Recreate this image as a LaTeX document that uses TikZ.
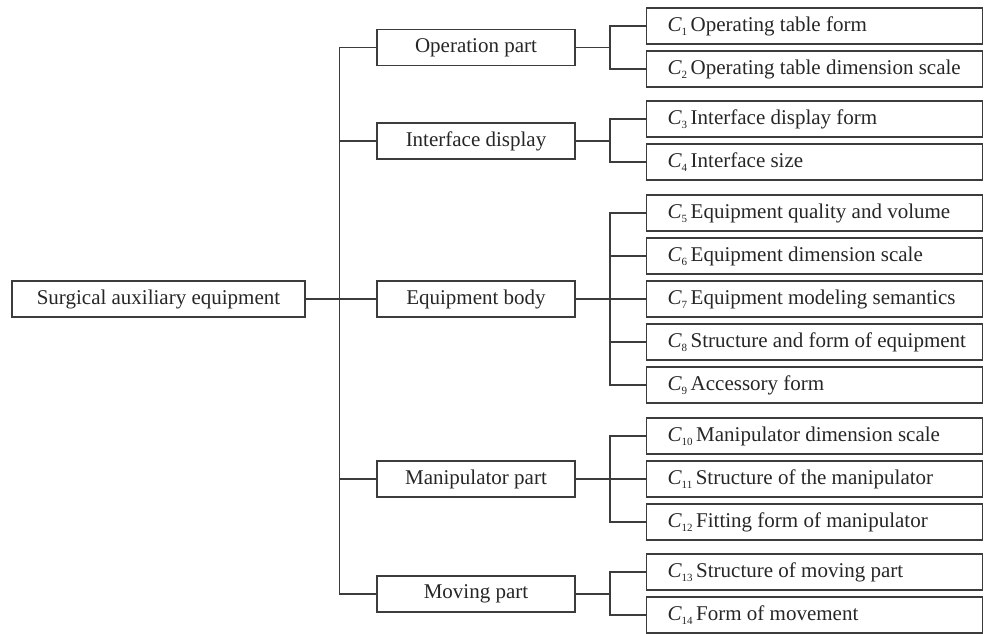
\documentclass[tikz,border=0pt]{standalone}
\usepackage{fontspec}
\setmainfont{Liberation Serif}
\usepackage{tikz}
\usetikzlibrary{positioning}
\definecolor{linegray}{RGB}{60, 60, 60}
\newcommand{\crit}[2]{\makebox[294pt][l]{\textit{C}\raisebox{-0.45ex}{\fontsize{11}{11}\selectfont#1}\,#2}}

\begin{document}
\begin{tikzpicture}[x=1pt, y=-1pt,
  base/.style={rectangle, draw=linegray, line width=1.4pt,
    minimum height=36pt, inner sep=0pt,
    font=\fontsize{21}{25}\selectfont, text=black!85},
  rootbox/.style={base, minimum width=293pt},
  partbox/.style={base, minimum width=198pt},
  leafbox/.style={base, minimum width=336pt, inner xsep=21pt},
  link/.style={draw=linegray, line width=1.4pt}
]
  \useasboundingbox (0,0) rectangle (984,633);

  % root and parts
  \node[rootbox] (root) at (158.5,299) {Surgical auxiliary equipment};
  \node[partbox] (oper) at (476,47.5) {Operation part};
  \node[partbox] (intf) at (476,141)  {Interface display};
  \node[partbox] (body) at (476,299)  {Equipment body};
  \node[partbox] (mani) at (476,479)  {Manipulator part};
  \node[partbox] (move) at (476,594)  {Moving part};

  % criteria
  \node[leafbox] (c1)  at (814.5,26)  {\crit{1}{Operating table form}};
  \node[leafbox] (c2)  at (814.5,69)  {\crit{2}{Operating table dimension scale}};
  \node[leafbox] (c3)  at (814.5,119) {\crit{3}{Interface display form}};
  \node[leafbox] (c4)  at (814.5,162) {\crit{4}{Interface size}};
  \node[leafbox] (c5)  at (814.5,213) {\crit{5}{Equipment quality and volume}};
  \node[leafbox] (c6)  at (814.5,256) {\crit{6}{Equipment dimension scale}};
  \node[leafbox] (c7)  at (814.5,299) {\crit{7}{Equipment modeling semantics}};
  \node[leafbox] (c8)  at (814.5,342) {\crit{8}{Structure and form of equipment}};
  \node[leafbox] (c9)  at (814.5,385) {\crit{9}{Accessory form}};
  \node[leafbox] (c10) at (814.5,436) {\crit{10}{Manipulator dimension scale}};
  \node[leafbox] (c11) at (814.5,479) {\crit{11}{Structure of the manipulator}};
  \node[leafbox] (c12) at (814.5,522) {\crit{12}{Fitting form of manipulator}};
  \node[leafbox] (c13) at (814.5,572) {\crit{13}{Structure of moving part}};
  \node[leafbox] (c14) at (814.5,615) {\crit{14}{Form of movement}};

  % root to parts
  \draw[link] (root) -- (body);
  \draw[link] (oper.west) -- ++(-37,0) |- (move.west);
  \draw[link] (intf.west) -- ++(-37,0);
  \draw[link] (mani.west) -- ++(-37,0);

  % parts to criteria
  \draw[link] (oper) -- ++(135,0);
  \draw[link] (c1.west) -- ++(-36,0) |- (c2.west);
  \draw[link] (intf) -- ++(135,0);
  \draw[link] (c3.west) -- ++(-36,0) |- (c4.west);
  \draw[link] (body) -- (c7);
  \draw[link] (c5.west) -- ++(-36,0) |- (c9.west);
  \draw[link] (c6.west) -- ++(-36,0);
  \draw[link] (c8.west) -- ++(-36,0);
  \draw[link] (mani) -- (c11);
  \draw[link] (c10.west) -- ++(-36,0) |- (c12.west);
  \draw[link] (move) -- ++(135,0);
  \draw[link] (c13.west) -- ++(-36,0) |- (c14.west);
\end{tikzpicture}
\end{document}
